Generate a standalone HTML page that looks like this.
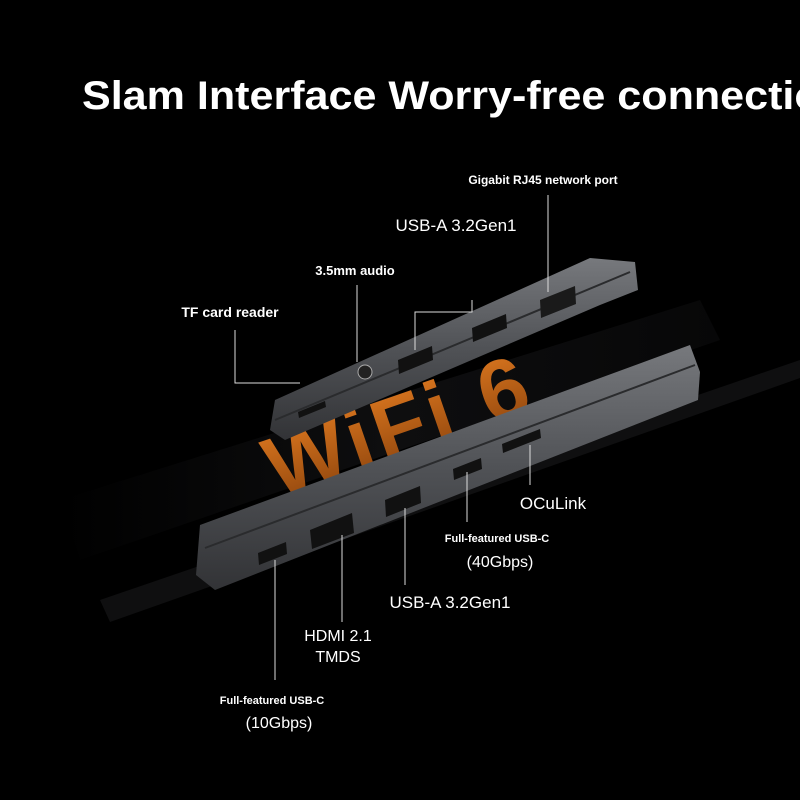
<!DOCTYPE html>
<html><head><meta charset="utf-8"><style>
html,body{margin:0;padding:0;background:#000;}
svg{display:block}
</style></head><body>
<svg width="800" height="800" viewBox="0 0 800 800" xmlns="http://www.w3.org/2000/svg" font-family="Liberation Sans, sans-serif">
<defs>
<linearGradient id="gb" x1="0" y1="0" x2="0" y2="1">
<stop offset="0" stop-color="#77797d"/><stop offset="0.5" stop-color="#505256"/><stop offset="1" stop-color="#323336"/>
</linearGradient>
<linearGradient id="bg2" x1="0" y1="0" x2="1" y2="0">
<stop offset="0" stop-color="#000"/><stop offset="0.5" stop-color="#141416"/><stop offset="1" stop-color="#0a0a0b"/>
</linearGradient>
<linearGradient id="wf" x1="0" y1="0" x2="0" y2="1">
<stop offset="0" stop-color="#e07a20"/><stop offset="1" stop-color="#8a420c"/>
</linearGradient>
</defs>
<rect width="800" height="800" fill="#000"/>
<polygon points="60,500 700,300 720,340 80,560" fill="url(#bg2)" opacity="0.7"/>
<polygon points="100,600 800,360 800,378 110,622" fill="#0f0f10"/>
<text x="400" y="455" font-size="86" font-weight="bold" fill="url(#wf)" text-anchor="middle" transform="rotate(-19 400 430)" letter-spacing="4">WiFi 6</text>
<polygon points="275,400 590,258 635,262 638,290 600,305 285,440 270,430" fill="url(#gb)"/>
<line x1="275" y1="420" x2="630" y2="272" stroke="#2a2b2d" stroke-width="2"/>
<polygon points="298,412 325,401 326,407 299,418" fill="#111"/>
<circle cx="365" cy="372" r="7" fill="#222" stroke="#aaa"/>
<polygon points="398,360 432,346 433,360 399,374" fill="#111"/>
<polygon points="472,328 506,314 507,328 473,342" fill="#111"/>
<polygon points="540,300 575,286 576,304 541,318" fill="#1a1a1a"/>
<polygon points="200,525 690,345 700,372 698,400 215,590 196,575" fill="url(#gb)"/>
<line x1="205" y1="548" x2="695" y2="365" stroke="#2a2b2d" stroke-width="2"/>
<polygon points="258,553 286,542 287,554 259,565" fill="#111"/>
<polygon points="310,530 352,513 354,533 312,549" fill="#111"/>
<polygon points="385,500 420,486 421,503 386,517" fill="#111"/>
<polygon points="453,469 481,458 482,469 454,480" fill="#111"/>
<polygon points="502,444 540,429 541,438 503,453" fill="#111"/>
<g stroke="#ddd" stroke-width="1" fill="none">
<polyline points="235,330 235,383 300,383"/>
<line x1="357" y1="285" x2="357" y2="362"/>
<polyline points="415,350 415,312 472,312 472,300"/>
<line x1="548" y1="195" x2="548" y2="292"/>
<line x1="275" y1="560" x2="275" y2="680"/>
<line x1="342" y1="535" x2="342" y2="622"/>
<line x1="405" y1="508" x2="405" y2="585"/>
<line x1="467" y1="472" x2="467" y2="522"/>
<line x1="530" y1="445" x2="530" y2="485"/>
</g>
<text x="82" y="109" font-size="40" font-weight="bold" fill="#fff" textLength="765" lengthAdjust="spacingAndGlyphs">Slam Interface Worry-free connection</text>
<g fill="#fff" text-anchor="middle">
<text x="543" y="184" font-size="12" font-weight="bold">Gigabit RJ45 network port</text>
<text x="456" y="231" font-size="17">USB-A 3.2Gen1</text>
<text x="355" y="275" font-size="13" font-weight="bold">3.5mm audio</text>
<text x="230" y="317" font-size="14" font-weight="bold">TF card reader</text>
<text x="553" y="509" font-size="17">OCuLink</text>
<text x="497" y="542" font-size="11" font-weight="bold">Full-featured USB-C</text>
<text x="500" y="567" font-size="16">(40Gbps)</text>
<text x="450" y="608" font-size="17">USB-A 3.2Gen1</text>
<text x="338" y="641" font-size="16">HDMI 2.1</text>
<text x="338" y="662" font-size="16">TMDS</text>
<text x="272" y="704" font-size="11" font-weight="bold">Full-featured USB-C</text>
<text x="279" y="728" font-size="16">(10Gbps)</text>
</g>
</svg>
</body></html>
